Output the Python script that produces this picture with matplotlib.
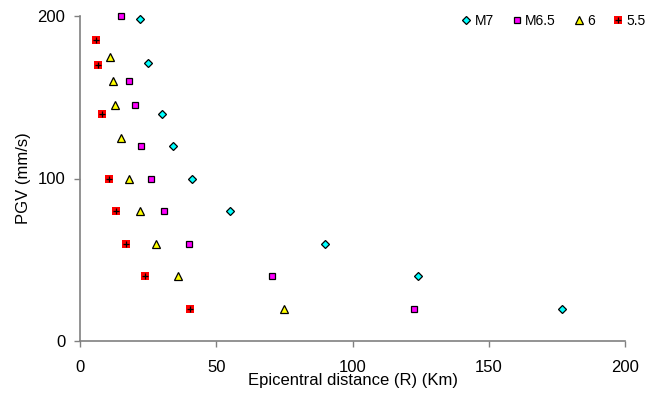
import matplotlib
matplotlib.use("Agg")
import matplotlib.pyplot as plt
from matplotlib.legend_handler import HandlerTuple

plt.rcParams['font.family'] = ['Liberation Sans', 'DejaVu Sans']

m7_x = [22, 25, 30, 34, 41, 55, 90, 124, 177]
m7_y = [198, 171, 140, 120, 100, 80, 60, 40, 20]
m65_x = [15, 18, 20, 22.5, 26, 31, 40, 70.5, 122.5]
m65_y = [200, 160, 145, 120, 100, 80, 60, 40, 20]
m6_x = [11, 12, 13, 15, 18, 22, 28, 36, 75]
m6_y = [175, 160, 145, 125, 100, 80, 60, 40, 20]
m55_x = [6, 6.7, 8, 10.5, 13.3, 17, 24, 40.3]
m55_y = [185, 170, 140, 100, 80, 60, 40, 20]

fig = plt.figure(figsize=(6.48, 3.96), dpi=100)
ax = fig.add_axes([80/648, 55/396, 545/648, 325/396])

h1, = ax.plot(m7_x, m7_y, 'D', ms=4.2, mfc='#00FFFF', mec='black', mew=0.9, ls='none', clip_on=False)
h2, = ax.plot(m65_x, m65_y, 's', ms=4.8, mfc='#FF00FF', mec='black', mew=0.9, ls='none', clip_on=False)
h3, = ax.plot(m6_x, m6_y, '^', ms=5.5, mfc='#FFFF00', mec='black', mew=0.9, ls='none', clip_on=False)
h4a, = ax.plot(m55_x, m55_y, 's', ms=6.0, mfc='#FF0000', mec='#FF0000', mew=0, ls='none', clip_on=False)
h4b, = ax.plot(m55_x, m55_y, '+', ms=4.5, mec='black', mew=0.9, ls='none', clip_on=False)

ax.set_xlim(0, 200)
ax.set_ylim(0, 200)
ax.set_xticks([0, 50, 100, 150, 200])
ax.set_yticks([0, 100, 200])
for s in ['top', 'right']:
    ax.spines[s].set_visible(False)
for s in ['left', 'bottom']:
    ax.spines[s].set_color('#808080')
    ax.spines[s].set_linewidth(1.2)
ax.tick_params(axis='both', direction='out', length=4.5, width=1, color='#808080',
               labelsize=12)
ax.tick_params(axis='x', pad=9)
ax.tick_params(axis='y', pad=6)
ax.set_xlabel('Epicentral distance (R) (Km)', fontsize=12, labelpad=-1)
ax.set_ylabel('PGV (mm/s)', fontsize=12, labelpad=5)

leg = ax.legend([h1, h2, h3, (h4a, h4b)], ['M7', 'M6.5', '6', '5.5'],
                handler_map={tuple: HandlerTuple(ndivide=1, pad=0)},
                loc='upper right', bbox_to_anchor=(1.06, 1.045), ncol=4, frameon=False,
                fontsize=10, handlelength=0.6, handletextpad=0.3, columnspacing=1.35,
                numpoints=1)

fig.savefig('out.png', dpi=100)
